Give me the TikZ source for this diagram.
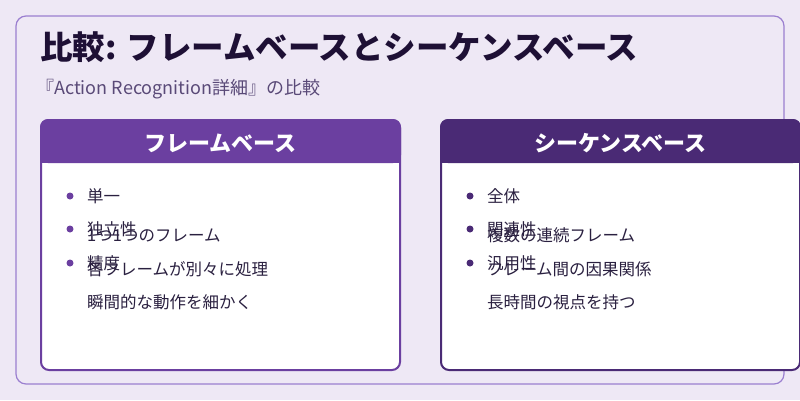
\documentclass[tikz,border=0pt]{standalone}
\usepackage{fontspec}
\setmainfont{Noto Sans CJK JP}
\usetikzlibrary{positioning}
\definecolor{bgpurple}{HTML}{EEE8F5}
\definecolor{framepurple}{HTML}{9B7FD0}
\definecolor{leftpurple}{HTML}{6B3FA0}
\definecolor{rightpurple}{HTML}{4A2A75}
\definecolor{titleink}{HTML}{1E1035}
\definecolor{subink}{HTML}{5A4A78}
\definecolor{bodyink}{HTML}{2A2040}
\tikzstyle{card}=[line width=2pt,fill=white,rounded corners=8pt]
\tikzstyle{item}=[anchor=west,font=\fontsize{16.5}{19}\selectfont,text=bodyink,inner sep=0pt]
\tikzstyle{dot}=[circle,inner sep=0pt,minimum size=7pt]
\tikzstyle{head}=[font=\bfseries\fontsize{22}{25}\selectfont,text=white]
\begin{document}
\begin{tikzpicture}[x=1pt,y=-1pt]
            \useasboundingbox (0,0) rectangle (800,400);
            \fill[bgpurple] (0,0) rectangle (800,400);
            \draw[framepurple,line width=1.2pt,rounded corners=10pt] (16,16) rectangle (784,384);

            % titles
            \node[anchor=west,font=\bfseries\fontsize{32.5}{36}\selectfont,text=titleink,inner sep=0pt] (title) at (40,47) {比較: フレームベースとシーケンスベース};
            \node[anchor=west,font=\fontsize{18}{21}\selectfont,text=subink,inner sep=0pt] (sub) at (36,89) {『Action Recognition詳細』の比較};

            % frame-based card
            \draw[card,draw=leftpurple] (41,120) rectangle (400,370);
            \fill[leftpurple,rounded corners=8pt] (40,119) rectangle (401,163);
            \fill[leftpurple] (40,150) rectangle (401,163);
            \node[head] (lhead) at (220.5,143) {フレームベース};

            \foreach \y [count=\i] in {196,229,263}
                \node[dot,fill=leftpurple] (ld\i) at (70,\y) {};
            \node[item] (l1) at (87,196) {単一};
            \node[item] (l2) at (87,229) {独立性};
            \node[item] (l3) at (87,263) {精度};
            \node[item] (l4) at (87,235) {1つ1つのフレーム};
            \node[item] (l5) at (87,269) {各フレームが別々に処理};
            \node[item] (l6) at (87,302) {瞬間的な動作を細かく};

            % sequence-based card
            \draw[card,draw=rightpurple] (441,120) rectangle (800,370);
            \fill[rightpurple,rounded corners=8pt] (440,119) rectangle (801,163);
            \fill[rightpurple] (440,150) rectangle (801,163);
            \node[head] (rhead) at (620.5,143) {シーケンスベース};

            \foreach \y [count=\i] in {196,229,263}
                \node[dot,fill=rightpurple] (rd\i) at (470,\y) {};
            \node[item] (r1) at (487,196) {全体};
            \node[item] (r2) at (487,229) {関連性};
            \node[item] (r3) at (487,263) {汎用性};
            \node[item] (r4) at (487,235) {複数の連続フレーム};
            \node[item] (r5) at (487,269) {フレーム間の因果関係};
            \node[item] (r6) at (487,302) {長時間の視点を持つ};
\end{tikzpicture}
\end{document}
